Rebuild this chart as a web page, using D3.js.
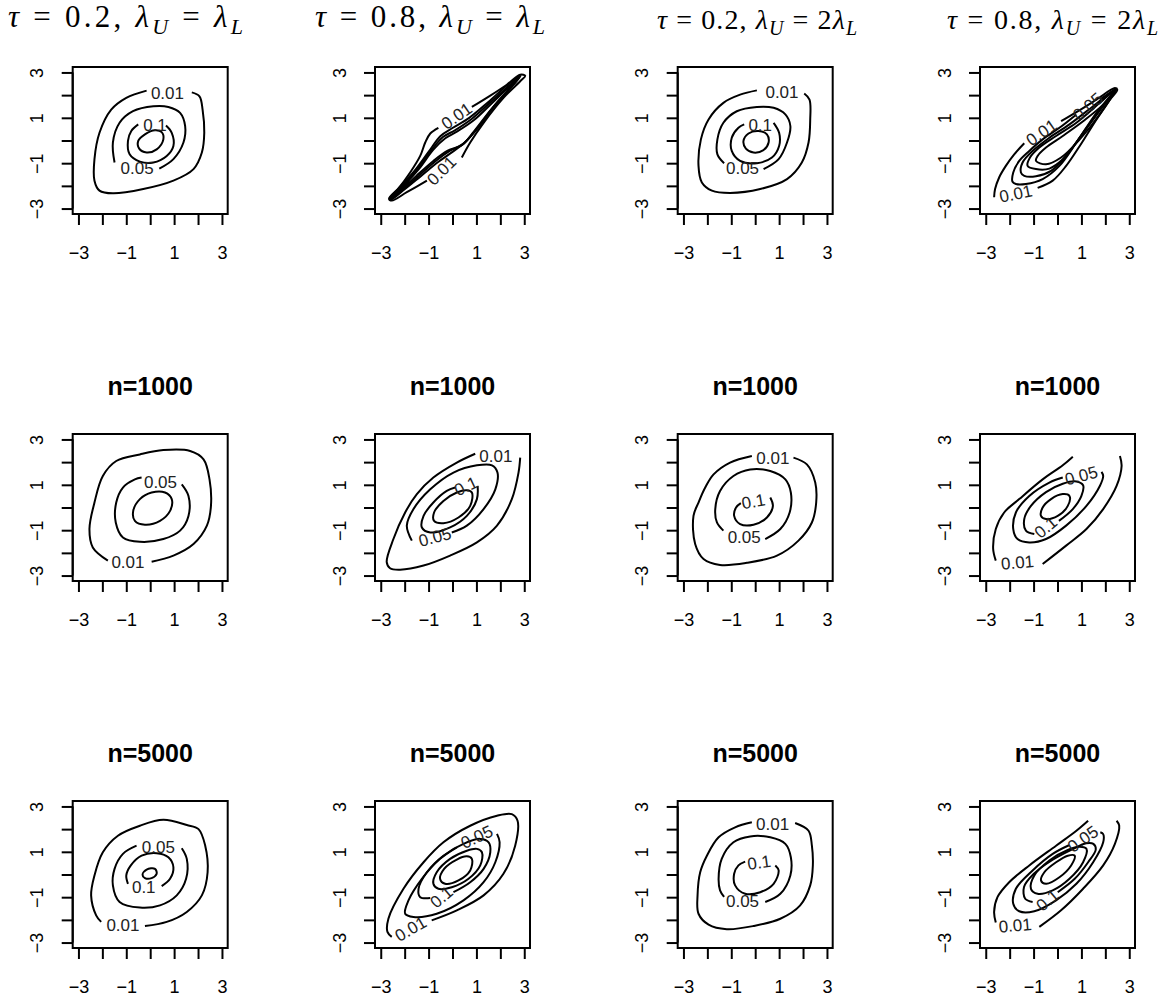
<!DOCTYPE html>
<html>
<head>
<meta charset="utf-8">
<script src="https://cdn.jsdelivr.net/npm/d3@7"></script>
<style>
  body { margin: 0; background: #fff; }
  svg { display: block; }
</style>
</head>
<body>
<svg id="fig" width="1167" height="997"></svg>
<script>
// ---- axis values ----
const TICKS = [-3, -2, -1, 0, 1, 2, 3];
const TICK_LABELS = ["\u22123", "", "\u22121", "", "1", "", "3"];
const AXIS_RANGE = [-3.24, 3.24];

// ---- panel titles ----
const TAU = ["0.2", "0.8", "0.2", "0.8"];
const TAIL_FACTOR = ["", "", "2", "2"];
const SAMPLE_SIZES = ["n=1000", "n=5000"];

// ---- contour lines (x, y) per panel; open lines leave room for their label ----
const TRUE_T02_EQ = [
  { level: 0.01, closed: false, pts: [[1.74,2.12],[2.06,1.95],[2.19,1.36],[2.26,0.34],[2.16,-0.53],[1.81,-1.26],[0.97,-1.77],[-0.29,-2.14],[-1.56,-2.33],[-2.12,-2.21],[-2.33,-1.77],[-2.33,-0.82],[-2.12,0.34],[-1.63,1.36],[-1.0,1.88],[-0.15,2.2]] },
  { level: 0.05, closed: false, pts: [[0.38,-1.24],[0.97,-0.82],[1.39,-0.09],[1.46,0.64],[1.25,1.22],[0.76,1.48],[0.13,1.51],[-0.72,1.29],[-1.28,0.78],[-1.56,-0.09],[-1.49,-0.97]] },
  { level: 0.1, closed: false, pts: [[0.66,0.66],[0.9,0.34],[0.97,-0.24],[0.69,-0.68],[0.13,-0.97],[-0.43,-0.93],[-0.86,-0.61],[-0.93,-0.02],[-0.79,0.42],[-0.5,0.71]] },
  { level: 0.15, closed: true, pts: [[0.48,0.37],[0.55,0.05],[0.27,-0.39],[-0.15,-0.53],[-0.46,-0.36],[-0.5,-0.02],[-0.22,0.27],[0.2,0.45]] }
];
const TRUE_T02_EQ_LABELS = [
  { text: "0.01", x: 0.72, y: 2.09, angle: 0 },
  { text: "0.05", x: -0.55, y: -1.22, angle: 0 },
  { text: "0.1", x: 0.2, y: 0.68, angle: 0 }
];

const TRUE_T08_EQ = [
  { level: 0.01, closed: false, pts: [[0.81,1.48],[1.58,1.98],[2.27,2.46],[2.83,2.9],[3.04,2.85],[2.83,2.61],[2.13,1.88],[1.3,0.78],[0.74,-0.09],[0.39,-0.75]] },
  { level: 0.01, closed: false, pts: [[-1.07,-1.77],[-1.91,-2.28],[-2.54,-2.65],[-2.64,-2.58],[-2.33,-2.21],[-1.77,-1.41],[-1.35,-0.68],[-1.14,-0.09],[-0.93,0.31],[-0.59,0.56]] },
  { level: 0.05, closed: true, pts: [[-2.65,-2.55],[-2.2,-2.05],[-1.6,-1.35],[-1.0,-0.5],[-0.5,0.2],[0,0.55],[0.7,1.0],[1.5,1.7],[2.3,2.45],[2.85,2.85],[2.5,2.4],[1.8,1.6],[1.1,0.6],[0.5,-0.1],[0,-0.5],[-0.6,-0.95],[-1.3,-1.55],[-2.0,-2.15],[-2.6,-2.62]] },
  { level: 0.1, closed: true, pts: [[-2.6,-2.55],[-2.1,-2.0],[-1.5,-1.3],[-0.9,-0.45],[-0.4,0.15],[0.1,0.45],[0.8,0.95],[1.6,1.7],[2.4,2.45],[2.8,2.8],[2.45,2.35],[1.7,1.45],[1.0,0.5],[0.45,-0.15],[-0.1,-0.45],[-0.7,-0.9],[-1.4,-1.55],[-2.1,-2.2],[-2.6,-2.6]] },
  { level: 0.15, closed: true, pts: [[-2.55,-2.5],[-2.0,-1.95],[-1.4,-1.25],[-0.8,-0.4],[-0.3,0.1],[0.2,0.4],[0.9,0.9],[1.7,1.7],[2.4,2.4],[2.75,2.75],[2.4,2.3],[1.6,1.35],[0.9,0.4],[0.4,-0.2],[-0.2,-0.45],[-0.8,-0.9],[-1.5,-1.55],[-2.1,-2.15],[-2.55,-2.55]] }
];
const TRUE_T08_EQ_LABELS = [
  { text: "0.01", x: 0.18, y: 1.07, angle: -35 },
  { text: "0.01", x: -0.45, y: -1.34, angle: -45 }
];

const TRUE_T02_ASYM = [
  { level: 0.01, closed: false, pts: [[2.05,2.07],[2.27,1.8],[2.3,0.93],[2.23,-0.09],[1.95,-0.97],[1.33,-1.7],[0.21,-2.14],[-1.05,-2.31],[-1.81,-2.21],[-2.23,-1.85],[-2.37,-1.12],[-2.27,0.05],[-1.95,0.93],[-1.33,1.66],[-0.63,2.02],[0.07,2.21]] },
  { level: 0.05, closed: false, pts: [[0.35,-1.26],[0.98,-0.82],[1.33,-0.09],[1.47,0.64],[1.26,1.15],[0.77,1.44],[0.07,1.48],[-0.77,1.29],[-1.33,0.78],[-1.58,0.05],[-1.58,-0.61],[-1.3,-1.0]] },
  { level: 0.1, closed: false, pts: [[0.77,0.78],[1.0,0.34],[1.0,-0.24],[0.7,-0.75],[0.07,-1.0],[-0.63,-0.9],[-0.98,-0.46],[-0.98,0.12],[-0.7,0.56],[-0.46,0.71]] },
  { level: 0.15, closed: true, pts: [[0.49,0.27],[0.56,-0.09],[0.35,-0.42],[-0.07,-0.53],[-0.39,-0.36],[-0.49,-0.02],[-0.28,0.31],[0.14,0.42]] }
];
const TRUE_T02_ASYM_LABELS = [
  { text: "0.01", x: 1.12, y: 2.12, angle: 0 },
  { text: "0.05", x: -0.53, y: -1.23, angle: 0 },
  { text: "0.1", x: 0.21, y: 0.66, angle: 0 }
];

const TRUE_T08_ASYM = [
  { level: 0.01, closed: false, pts: [[-2.65,-2.5],[-2.61,-2.14],[-2.44,-1.63],[-2.16,-1.12],[-1.81,-0.61],[-1.39,-0.12]] },
  { level: 0.01, closed: false, pts: [[0.15,0.85],[0.79,1.25],[1.63,1.8],[2.4,2.31],[2.5,2.24],[2.19,1.8],[1.63,0.93],[0.93,-0.24],[0.36,-1.12],[-0.2,-1.77],[-0.83,-2.09]] },
  { level: 0.05, closed: false, pts: [[1.77,1.8],[2.44,2.27],[2.26,2.02],[1.63,1.22],[0.79,-0.09],[0.08,-1.12],[-0.62,-1.7],[-1.32,-1.92],[-1.74,-1.92],[-1.88,-1.82],[-1.85,-1.41],[-1.6,-0.9],[-1.18,-0.46],[-0.62,0.05],[0.08,0.56],[0.79,1.15]] },
  { level: 0.1, closed: true, pts: [[-1.53,-1.41],[-1.46,-0.97],[-1.04,-0.46],[-0.34,0.12],[0.5,0.71],[1.49,1.51],[2.4,2.24],[1.91,1.51],[1.07,0.34],[0.36,-0.68],[-0.27,-1.34],[-0.9,-1.58],[-1.39,-1.56]] },
  { level: 0.15, closed: true, pts: [[-1.25,-1.12],[-1.15,-0.75],[-0.76,-0.31],[-0.06,0.2],[0.79,0.78],[1.77,1.66],[2.44,2.27],[1.77,1.37],[0.93,0.12],[0.22,-0.83],[-0.34,-1.24],[-0.9,-1.26]] },
  { level: 0.2, closed: true, pts: [[-0.9,-0.9],[-0.83,-0.68],[-0.48,-0.31],[0.22,0.2],[1.07,0.85],[1.91,1.58],[2.44,2.24],[1.77,1.15],[0.93,0.05],[0.15,-0.75],[-0.48,-1.05]] }
];
const TRUE_T08_ASYM_LABELS = [
  { text: "0.01", x: -0.66, y: 0.34, angle: -35 },
  { text: "0.01", x: -1.74, y: -2.36, angle: -12 },
  { text: "0.05", x: 1.28, y: 1.48, angle: -40 }
];

const N1000_T02_EQ = [
  { level: 0.01, closed: false, pts: [[0.06,-2.39],[0.97,-2.12],[1.81,-1.61],[2.37,-0.8],[2.54,0.07],[2.48,1.24],[2.23,2.12],[1.67,2.49],[0.55,2.53],[-0.43,2.34],[-1.42,2.05],[-1.98,1.39],[-2.33,0.22],[-2.54,-0.95],[-2.4,-1.76],[-1.77,-2.34]] },
  { level: 0.05, closed: false, pts: [[1.32,1.02],[1.6,0.51],[1.6,-0.37],[1.25,-1.02],[0.55,-1.39],[-0.43,-1.51],[-1.14,-1.32],[-1.44,-0.66],[-1.42,0.22],[-1.14,0.88],[-0.64,1.24],[-0.36,1.32]] },
  { level: 0.1, closed: true, pts: [[0.9,0.37],[0.83,-0.15],[0.41,-0.59],[-0.22,-0.76],[-0.64,-0.59],[-0.71,-0.15],[-0.43,0.37],[0.06,0.66],[0.62,0.66]] }
];
const N1000_T02_EQ_LABELS = [
  { text: "0.01", x: -0.93, y: -2.41, angle: 0 },
  { text: "0.05", x: 0.43, y: 1.1, angle: 0 }
];

const N1000_T08_EQ = [
  { level: 0.01, closed: false, pts: [[0.95,2.37],[0.18,1.98],[-0.8,1.32],[-1.49,0.59],[-1.98,-0.22],[-2.47,-1.39],[-2.75,-2.41],[-2.61,-2.68],[-2.19,-2.74],[-1.21,-2.56],[-0.1,-2.12],[1.02,-1.54],[1.86,-0.8],[2.48,0.37],[2.76,1.54],[2.83,2.2]] },
  { level: 0.05, closed: false, pts: [[-1.7,-1.46],[-1.91,-0.8],[-1.63,-0.07],[-0.93,0.8],[0.04,1.54],[1.02,1.86],[1.65,1.86],[1.88,1.54],[1.79,0.8],[1.3,-0.07],[0.6,-0.8],[-0.03,-1.1]] },
  { level: 0.1, closed: false, pts: [[1.05,0.95],[1.02,0.37],[0.6,-0.37],[-0.1,-0.88],[-0.93,-1.1],[-1.28,-0.88],[-1.21,-0.37],[-0.8,0.22],[-0.24,0.73],[0.11,0.88]] },
  { level: 0.15, closed: true, pts: [[0.81,0.66],[0.74,0.07],[0.25,-0.44],[-0.38,-0.69],[-0.77,-0.59],[-0.77,-0.22],[-0.38,0.29],[0.18,0.66],[0.6,0.76]] }
];
const N1000_T08_EQ_LABELS = [
  { text: "0.01", x: 1.81, y: 2.27, angle: 0 },
  { text: "0.05", x: -0.73, y: -1.32, angle: -15 },
  { text: "0.1", x: 0.57, y: 0.92, angle: -25 }
];

const N1000_T02_ASYM = [
  { level: 0.01, closed: false, pts: [[1.6,2.2],[2.16,1.9],[2.51,1.1],[2.55,0.22],[2.37,-0.66],[1.81,-1.46],[0.91,-2.12],[-0.35,-2.44],[-1.47,-2.53],[-2.16,-2.27],[-2.51,-1.61],[-2.58,-0.37],[-2.37,0.22],[-2.09,0.88],[-1.74,1.46],[-1.05,1.98],[-0.14,2.27]] },
  { level: 0.05, closed: false, pts: [[0.42,-1.39],[1.05,-0.95],[1.44,-0.22],[1.49,0.66],[1.26,1.24],[0.63,1.61],[-0.21,1.68],[-0.91,1.39],[-1.47,0.73],[-1.67,-0.07],[-1.6,-0.66],[-1.33,-1.02]] },
  { level: 0.1, closed: false, pts: [[0.63,0.44],[0.74,0.07],[0.49,-0.44],[-0.07,-0.76],[-0.63,-0.73],[-0.88,-0.37],[-0.8,0],[-0.6,0.19]] }
];
const N1000_T02_ASYM_LABELS = [
  { text: "0.01", x: 0.74, y: 2.15, angle: 0 },
  { text: "0.05", x: -0.46, y: -1.32, angle: 0 },
  { text: "0.1", x: -0.07, y: 0.25, angle: -10 }
];

const N1000_T08_ASYM = [
  { level: 0.01, closed: false, pts: [[-2.58,-2.34],[-2.69,-1.83],[-2.58,-0.95],[-2.23,-0.22],[-1.6,0.37],[-0.62,1.24],[0.22,1.86],[0.64,2.24]] },
  { level: 0.01, closed: false, pts: [[2.61,2.27],[2.68,1.83],[2.47,0.95],[1.91,-0.07],[1.21,-0.95],[0.36,-1.68],[-0.62,-2.49]] },
  { level: 0.05, closed: false, pts: [[0.22,1.32],[-0.34,1.1],[-1.18,0.51],[-1.74,-0.22],[-1.85,-0.95],[-1.67,-1.39],[-1.18,-1.54],[-0.48,-1.39],[0.36,-0.8],[1.21,0.07],[1.77,0.95],[1.91,1.39],[1.84,1.57]] },
  { level: 0.1, closed: false, pts: [[0.06,-0.59],[0.64,-0.07],[1.0,0.51],[1.07,0.98],[0.79,1.15],[0.22,1.05],[-0.48,0.68],[-1.11,0.07],[-1.39,-0.51],[-1.32,-1.02],[-0.97,-1.17]] },
  { level: 0.15, closed: true, pts: [[0.5,0.51],[0.43,0.07],[0.01,-0.37],[-0.48,-0.51],[-0.69,-0.37],[-0.62,0],[-0.27,0.37],[0.22,0.59]] }
];
const N1000_T08_ASYM_LABELS = [
  { text: "0.01", x: -1.67, y: -2.44, angle: -5 },
  { text: "0.05", x: 1.0, y: 1.39, angle: -15 },
  { text: "0.1", x: -0.48, y: -0.88, angle: -40 }
];

const N5000_T02_EQ = [
  { level: 0.01, closed: false, pts: [[-0.22,-2.27],[0.69,-2.09],[1.53,-1.65],[2.16,-0.92],[2.4,0.1],[2.3,1.27],[2.02,2.0],[1.53,2.18],[0.55,2.41],[-0.43,2.15],[-1.35,1.71],[-1.98,0.98],[-2.33,-0.04],[-2.47,-0.92],[-2.26,-1.8],[-2.05,-2.09]] },
  { level: 0.05, closed: false, pts: [[1.32,1.16],[1.53,0.69],[1.5,-0.19],[1.11,-0.92],[0.41,-1.36],[-0.43,-1.46],[-1.28,-1.21],[-1.56,-0.48],[-1.49,0.25],[-1.14,0.91],[-0.57,1.27]] },
  { level: 0.1, closed: false, pts: [[0.48,-0.51],[0.83,-0.19],[0.97,0.32],[0.76,0.76],[0.27,0.94],[-0.36,0.83],[-0.81,0.4],[-1.0,-0.04],[-0.93,-0.41]] },
  { level: 0.15, closed: true, pts: [[0.2,0.25],[0.27,0.03],[0.06,-0.16],[-0.22,-0.16],[-0.32,-0.01],[-0.15,0.22]] }
];
const N5000_T02_EQ_LABELS = [
  { text: "0.01", x: -1.14, y: -2.27, angle: 0 },
  { text: "0.05", x: 0.34, y: 1.17, angle: 0 },
  { text: "0.1", x: -0.27, y: -0.56, angle: 0 }
];

const N5000_T08_EQ = [
  { level: 0.01, closed: false, pts: [[-0.87,-2.02],[0.18,-1.58],[1.3,-0.92],[2.13,0.03],[2.62,1.27],[2.72,2.37],[2.48,2.66],[1.86,2.59],[0.74,2.15],[-0.38,1.42],[-1.21,0.54],[-2.05,-0.63],[-2.68,-1.95],[-2.72,-2.53],[-2.54,-2.75]] },
  { level: 0.05, closed: false, pts: [[1.86,1.79],[1.97,1.42],[1.79,0.54],[1.3,-0.34],[0.46,-1.14],[-0.66,-1.73],[-1.63,-1.87],[-1.98,-1.73],[-1.84,-1.14],[-1.28,-0.19],[-0.52,0.69],[0.18,1.2]] },
  { level: 0.1, closed: false, pts: [[0.04,-0.78],[0.74,-0.34],[1.3,0.25],[1.58,0.98],[1.51,1.42],[1.16,1.57],[0.46,1.35],[-0.38,0.83],[-1.07,0.1],[-1.42,-0.63],[-1.35,-1.0],[-0.93,-1.04]] },
  { level: 0.15, closed: true, pts: [[1.23,0.98],[1.16,0.4],[0.67,-0.19],[-0.03,-0.56],[-0.59,-0.63],[-0.8,-0.41],[-0.66,0.1],[-0.1,0.69],[0.6,1.05],[1.02,1.13]] },
  { level: 0.2, closed: true, pts: [[0.81,0.69],[0.74,0.18],[0.25,-0.26],[-0.31,-0.41],[-0.52,-0.19],[-0.35,0.25],[0.18,0.66],[0.6,0.8]] }
];
const N5000_T08_EQ_LABELS = [
  { text: "0.01", x: -1.74, y: -2.41, angle: -30 },
  { text: "0.05", x: 1.02, y: 1.64, angle: -25 },
  { text: "0.1", x: -0.45, y: -1.0, angle: -40 }
];

const N5000_T02_ASYM = [
  { level: 0.01, closed: false, pts: [[1.67,2.27],[2.23,1.93],[2.37,1.27],[2.41,0.4],[2.3,-0.48],[1.88,-1.36],[1.05,-1.95],[-0.07,-2.27],[-1.19,-2.41],[-1.95,-2.21],[-2.37,-1.73],[-2.41,-0.92],[-2.3,0.1],[-2.02,0.83],[-1.53,1.64],[-0.84,2.08],[-0.14,2.3]] },
  { level: 0.05, closed: false, pts: [[0.42,-1.21],[1.05,-0.85],[1.47,-0.04],[1.49,0.76],[1.26,1.35],[0.63,1.64],[-0.21,1.68],[-0.91,1.42],[-1.4,0.69],[-1.53,-0.19],[-1.47,-0.7],[-1.3,-0.99]] },
  { level: 0.1, closed: false, pts: [[0.84,0.4],[0.98,0.18],[0.77,-0.41],[0.21,-0.78],[-0.42,-0.85],[-0.84,-0.48],[-0.88,0.03],[-0.7,0.4],[-0.42,0.57]] }
];
const N5000_T02_ASYM_LABELS = [
  { text: "0.01", x: 0.73, y: 2.22, angle: 0 },
  { text: "0.05", x: -0.53, y: -1.21, angle: 0 },
  { text: "0.1", x: 0.17, y: 0.51, angle: -8 }
];

const N5000_T08_ASYM = [
  { level: 0.01, closed: false, pts: [[-2.58,-2.12],[-2.65,-1.65],[-2.51,-1.0],[-2.02,-0.34],[-1.18,0.4],[-0.06,1.27],[0.79,1.93],[1.28,2.37]] },
  { level: 0.01, closed: false, pts: [[2.47,2.37],[2.58,2.15],[2.4,1.35],[1.91,0.4],[1.07,-0.63],[0.15,-1.58],[-0.76,-2.31]] },
  { level: 0.05, closed: false, pts: [[0.48,1.29],[-0.2,0.91],[-1.04,0.18],[-1.74,-0.63],[-1.85,-1.29],[-1.6,-1.62],[-0.97,-1.62],[-0.06,-1.14],[0.79,-0.41],[1.49,0.54],[1.91,1.42],[1.91,1.78],[1.79,1.86]] },
  { level: 0.1, closed: false, pts: [[0.01,-0.78],[0.72,-0.19],[1.28,0.54],[1.6,1.1],[1.5,1.35],[1.2,1.38],[0.6,1.1],[-0.2,0.65],[-1.0,0.02],[-1.4,-0.55],[-1.35,-1.07],[-1.04,-1.21]] },
  { level: 0.15, closed: true, pts: [[1.21,1.13],[1.07,0.54],[0.5,-0.19],[-0.2,-0.7],[-0.83,-0.85],[-1.11,-0.63],[-0.97,-0.04],[-0.34,0.62],[0.43,1.08],[0.93,1.22]] },
  { level: 0.2, closed: true, pts: [[0.72,0.83],[0.57,0.4],[0.08,-0.12],[-0.48,-0.41],[-0.69,-0.26],[-0.55,0.1],[-0.06,0.54],[0.43,0.83]] }
];
const N5000_T08_ASYM_LABELS = [
  { text: "0.01", x: -1.77, y: -2.26, angle: -5 },
  { text: "0.05", x: 1.07, y: 1.55, angle: -35 },
  { text: "0.1", x: -0.41, y: -1.14, angle: -40 }
];

// ---- grid of panels: rows = true density, n=1000, n=5000 ----
const PANEL_LINES = [
  [TRUE_T02_EQ, TRUE_T08_EQ, TRUE_T02_ASYM, TRUE_T08_ASYM],
  [N1000_T02_EQ, N1000_T08_EQ, N1000_T02_ASYM, N1000_T08_ASYM],
  [N5000_T02_EQ, N5000_T08_EQ, N5000_T02_ASYM, N5000_T08_ASYM]
];
const PANEL_LABELS = [
  [TRUE_T02_EQ_LABELS, TRUE_T08_EQ_LABELS, TRUE_T02_ASYM_LABELS, TRUE_T08_ASYM_LABELS],
  [N1000_T02_EQ_LABELS, N1000_T08_EQ_LABELS, N1000_T02_ASYM_LABELS, N1000_T08_ASYM_LABELS],
  [N5000_T02_EQ_LABELS, N5000_T08_EQ_LABELS, N5000_T02_ASYM_LABELS, N5000_T08_ASYM_LABELS]
];

// ---- layout ----
const COL_LEFT = [72.7, 375, 677.7, 980];
const ROW_TOP = [67, 434, 801];
const BOX_W = 155, BOX_H = 147;
const MATH_TITLE = [
  { x: 8, w: 235, size: 31, base: 27 },
  { x: 315, w: 230, size: 31, base: 27 },
  { x: 657, w: 200, size: 28, base: 29 },
  { x: 947, w: 211, size: 28, base: 29 }
];
const SANS = "'Liberation Sans', Arial, Helvetica, sans-serif";
const SERIF = "'Liberation Serif', 'Times New Roman', serif";

const svg = d3.select("#fig");
svg.append("rect").attr("width", 1167).attr("height", 997).attr("fill", "#fff");

PANEL_LINES.forEach((rowLines, r) => {
  rowLines.forEach((lines, c) => {
    const L = COL_LEFT[c], T = ROW_TOP[r];
    const x = d3.scaleLinear().domain(AXIS_RANGE).range([L, L + BOX_W]);
    const y = d3.scaleLinear().domain(AXIS_RANGE).range([T + BOX_H, T]);
    const g = svg.append("g");

    const clipId = `clip-${r}-${c}`;
    svg.append("clipPath").attr("id", clipId)
      .append("rect").attr("x", L).attr("y", T).attr("width", BOX_W).attr("height", BOX_H);

    const openLine = d3.line().x(d => x(d[0])).y(d => y(d[1]))
      .curve(d3.curveCatmullRom.alpha(0.5));
    const closedLine = d3.line().x(d => x(d[0])).y(d => y(d[1]))
      .curve(d3.curveCatmullRomClosed.alpha(0.5));

    // contour lines
    g.append("g").attr("clip-path", `url(#${clipId})`)
      .selectAll("path").data(lines).join("path")
      .attr("d", d => (d.closed ? closedLine : openLine)(d.pts))
      .attr("fill", "none").attr("stroke", "#000")
      .attr("stroke-width", 2).attr("stroke-linejoin", "round").attr("stroke-linecap", "butt");

    // contour labels
    g.append("g").selectAll("text").data(PANEL_LABELS[r][c]).join("text")
      .attr("transform", d => `translate(${x(d.x)},${y(d.y)}) rotate(${d.angle})`)
      .attr("text-anchor", "middle").attr("dominant-baseline", "central")
      .attr("font-family", SANS).attr("font-size", 17).attr("fill", "#222")
      .text(d => d.text);

    // frame
    g.append("rect").attr("x", L).attr("y", T).attr("width", BOX_W).attr("height", BOX_H)
      .attr("fill", "none").attr("stroke", "#000").attr("stroke-width", 2);

    // bottom axis
    const ax = g.append("g").attr("transform", `translate(0,${T + BOX_H})`)
      .call(d3.axisBottom(x).tickValues(TICKS).tickFormat((d, i) => TICK_LABELS[i])
        .tickSize(11).tickPadding(21));
    ax.select(".domain").remove();
    ax.append("line").attr("x1", x(TICKS[0])).attr("x2", x(TICKS[TICKS.length - 1]))
      .attr("stroke", "#000").attr("stroke-width", 2);
    ax.selectAll(".tick line").attr("stroke-width", 2);
    ax.selectAll("text").attr("font-family", SANS).attr("font-size", 18).attr("fill", "#000");

    // left axis with rotated labels
    const ay = g.append("g").attr("transform", `translate(${L},0)`)
      .call(d3.axisLeft(y).tickValues(TICKS).tickFormat((d, i) => TICK_LABELS[i]).tickSize(11));
    ay.select(".domain").remove();
    ay.append("line").attr("y1", y(TICKS[0])).attr("y2", y(TICKS[TICKS.length - 1]))
      .attr("stroke", "#000").attr("stroke-width", 2);
    ay.selectAll(".tick line").attr("stroke-width", 2);
    ay.selectAll("text")
      .attr("x", null).attr("dy", null).attr("text-anchor", "middle")
      .attr("transform", "translate(-29.5,0) rotate(-90)")
      .attr("font-family", SANS).attr("font-size", 18).attr("fill", "#000");

    // titles
    if (r === 0) {
      const m = MATH_TITLE[c];
      const t = svg.append("text").attr("x", m.x).attr("y", m.base)
        .attr("font-family", SERIF).attr("font-size", m.size)
        .attr("textLength", m.w).attr("lengthAdjust", "spacing")
        .style("white-space", "pre");
      const sub = Math.round(m.size * 0.7), shift = Math.round(m.size * 0.22);
      t.append("tspan").attr("font-style", "italic").text("\u03C4");
      t.append("tspan").text(` = ${TAU[c]}, `);
      t.append("tspan").attr("font-style", "italic").text("\u03BB");
      t.append("tspan").attr("font-style", "italic").attr("font-size", sub).attr("dy", shift).text("U");
      t.append("tspan").attr("dy", -shift).text(` = ${TAIL_FACTOR[c]}`);
      t.append("tspan").attr("font-style", "italic").text("\u03BB");
      t.append("tspan").attr("font-style", "italic").attr("font-size", sub).attr("dy", shift).text("L");
    } else {
      svg.append("text").attr("x", L + BOX_W / 2).attr("y", T - 39)
        .attr("text-anchor", "middle").attr("font-family", SANS)
        .attr("font-weight", "bold").attr("font-size", 25)
        .text(SAMPLE_SIZES[r - 1]);
    }
  });
});
</script>
</body>
</html>
